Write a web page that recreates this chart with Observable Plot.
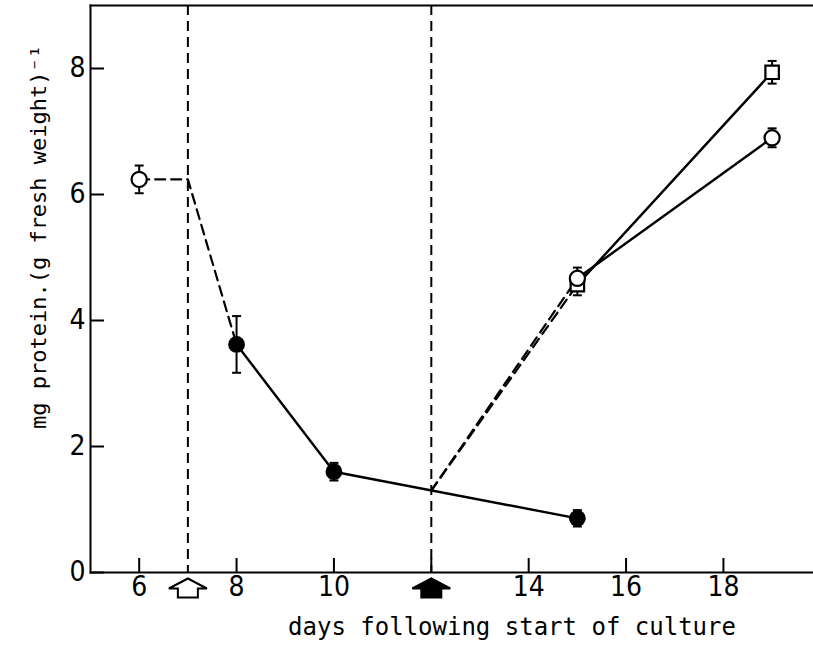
<!DOCTYPE html>
<html><head><meta charset="utf-8">
<script src="https://cdn.jsdelivr.net/npm/d3@7"></script>
<script src="https://cdn.jsdelivr.net/npm/@observablehq/plot@0.6"></script>
<style>body{margin:0;background:#fff}</style>
</head><body><div id="chart"></div>
<script>
// ---- data ----
const tickDays = [6, 8, 10, 12, 14, 16, 18];
const labelDays = [6, 8, 10, 14, 16, 18];
const yTicks = [0, 2, 4, 6, 8];
const treatDays = [7, 12];          // treatment days (arrows + vertical dashed lines)
const treatFilled = [false, true];

const openDays = [6, 15, 19];
const openVals = [6.24, 4.67, 6.90];
const openErrs = [0.22, 0.17, 0.15];

const filledDays = [8, 10, 15];
const filledVals = [3.62, 1.60, 0.86];
const filledErrs = [0.45, 0.14, 0.13];

const squareDays = [15, 19];
const squareVals = [4.57, 7.94];
const squareErrs = [0.17, 0.18];

// connecting paths
const dashedPaths = [
  {days: [6, 7, 8], vals: [6.24, 6.24, 3.62]},
  {days: [12, 15], vals: [1.30, 4.57]},
  {days: [12, 15], vals: [1.30, 4.67]}
];
const solidPaths = [
  {days: [8, 10, 15], vals: [3.62, 1.60, 0.86]},
  {days: [15, 19], vals: [4.57, 7.94]},
  {days: [15, 19], vals: [4.67, 6.90]}
];

const xLabel = "days following start of culture";
const yLabel = "mg protein.(g fresh weight)\u207B\u00B9";

// ---- build tables ----
const toRows = (days, vals, errs, kind) => days.map((d, i) => ({day: d, val: vals[i], err: errs ? errs[i] : 0, kind}));
const openRows = toRows(openDays, openVals, openErrs, "open");
const filledRows = toRows(filledDays, filledVals, filledErrs, "filled");
const squareRows = toRows(squareDays, squareVals, squareErrs, "square");
const allRows = [...openRows, ...filledRows, ...squareRows];
const pathRows = (paths) => paths.flatMap((p, k) => p.days.map((d, i) => ({day: d, val: p.vals[i], id: k})));
const treatRows = treatDays.map((d, i) => ({day: d, filled: treatFilled[i]}));

// custom symbols
const capSymbol = {draw(ctx) { ctx.moveTo(-4.5, 0); ctx.lineTo(4.5, 0); }};
const arrowSymbol = {draw(ctx) {
  ctx.moveTo(0, -10); ctx.lineTo(19, 0); ctx.lineTo(10, 0); ctx.lineTo(10, 9);
  ctx.lineTo(-10, 9); ctx.lineTo(-10, 0); ctx.lineTo(-19, 0); ctx.closePath();
}};

const numFont = "'Liberation Sans Narrow', 'DejaVu Sans Condensed', sans-serif";
const titleFont = "'DejaVu Sans Mono', monospace";
const dash = "10,6";

const W = 813, H = 646, ML = 90, MR = 0, MT = 5, MB = 74;
const frameW = W - ML - MR, frameH = H - MT - MB;
const tickLen = 14;

const chart = Plot.plot({
  width: W,
  height: H,
  marginLeft: ML,
  marginRight: MR,
  marginTop: MT,
  marginBottom: MB,
  style: {background: "#fff", color: "#000"},
  x: {domain: [5, 19.85], axis: null},
  y: {domain: [0, 9], axis: null},
  marks: [
    // vertical dashed lines at treatment days
    Plot.ruleX(treatDays, {x: d => d, stroke: "#000", strokeWidth: 2, strokeDasharray: dash}),
    // connecting lines
    Plot.line(pathRows(dashedPaths), {x: "day", y: "val", z: "id", stroke: "#000", strokeWidth: 2.2, strokeDasharray: dash}),
    Plot.line(pathRows(solidPaths), {x: "day", y: "val", z: "id", stroke: "#000", strokeWidth: 2.4}),
    // error bars
    Plot.ruleX(allRows, {x: "day", y1: d => d.val - d.err, y2: d => d.val + d.err, stroke: "#000", strokeWidth: 2}),
    Plot.dot(allRows, {x: "day", y: d => d.val + d.err, symbol: capSymbol, stroke: "#000", strokeWidth: 2, fill: "none"}),
    Plot.dot(allRows, {x: "day", y: d => d.val - d.err, symbol: capSymbol, stroke: "#000", strokeWidth: 2, fill: "none"}),
    // markers
    Plot.dot(squareRows, {x: "day", y: "val", symbol: "square", r: 7.6, fill: "#fff", stroke: "#000", strokeWidth: 2.2}),
    Plot.dot(openRows, {x: "day", y: "val", symbol: "circle", r: 7.6, fill: "#fff", stroke: "#000", strokeWidth: 2.2}),
    Plot.dot(filledRows, {x: "day", y: "val", symbol: "circle", r: 8.4, fill: "#000", stroke: "none"}),
    // frame (left, top, bottom)
    Plot.frame({anchor: "left", strokeWidth: 2}),
    Plot.frame({anchor: "top", strokeWidth: 2}),
    Plot.frame({anchor: "bottom", strokeWidth: 2}),
    // inward ticks
    Plot.tickX(tickDays, {x: d => d, insetTop: frameH - tickLen, stroke: "#000", strokeWidth: 2}),
    Plot.tickY(yTicks, {y: d => d, insetRight: frameW - tickLen, stroke: "#000", strokeWidth: 2}),
    // tick labels
    Plot.axisX(labelDays, {tickSize: 0, tickPadding: 4, label: null, fontSize: 28, fontFamily: numFont, tickFormat: d => String(d)}),
    Plot.axisY(yTicks, {tickSize: 0, tickPadding: 5, label: null, fontSize: 28, fontFamily: numFont, tickFormat: d => String(d)}),
    // treatment arrows below the axis
    Plot.dot(treatRows, {x: "day", frameAnchor: "bottom", dy: 16, symbol: arrowSymbol, stroke: "#000", strokeWidth: 2, fill: d => d.filled ? "#000" : "#fff"}),
    // axis titles
    Plot.text([xLabel], {text: d => d, frameAnchor: "bottom", textAnchor: "middle", dx: 60, dy: 55, fontSize: 24, fontFamily: titleFont, lineAnchor: "middle", fill: "#000"}),
    Plot.text([yLabel], {text: d => d, frameAnchor: "left", textAnchor: "middle", rotate: -90, dx: -52, dy: -52, fontSize: 22, fontFamily: titleFont, lineAnchor: "middle", fill: "#000"})
  ]
});
document.getElementById("chart").append(chart);
</script>
</body></html>
